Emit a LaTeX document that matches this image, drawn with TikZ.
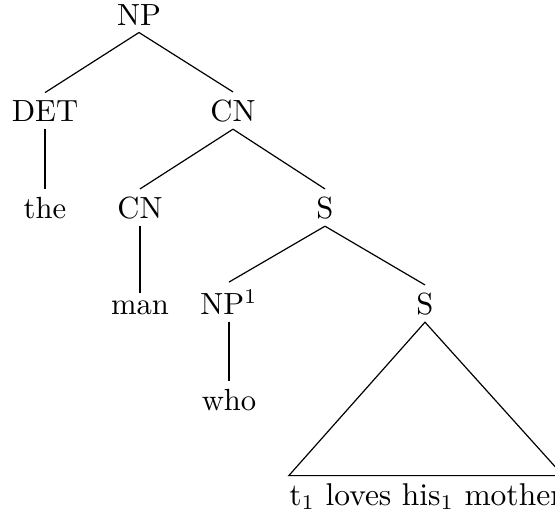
\documentclass[tikz,border=0pt]{standalone}
\begin{document}
\begin{tikzpicture}[x=0.3333pt,y=-0.3333pt,
  lab/.style={anchor=base, inner xsep=1pt, inner ysep=2.3pt, font=\fontsize{10.2}{12}\selectfont},
  br/.style={line width=0.4pt}]
\useasboundingbox (0,0) rectangle (555,515);
\node[lab] (np) at (139,25) {NP};
\node[lab] (det) at (45,121) {DET};
\node[lab] (cn) at (233,121) {CN};
\node[lab] (the) at (45,218) {the};
\node[lab] (cn2) at (140,218) {CN};
\node[lab] (s) at (325,218) {S};
\node[lab] (man) at (140,314) {man};
\node[lab] (np1) at (229,314) {NP$^1$};
\node[lab] (s2) at (425,314) {S};
\node[lab] (who) at (229,410) {who};
\node[lab, inner xsep=0pt, font=\fontsize{10.5}{12}\selectfont] (t) at (426,505) {t$_1$ loves his$_1$ mother};
\draw[br] (np.south) -- (det.north);
\draw[br] (np.south) -- (cn.north);
\draw[br] (det.south) -- (the.north);
\draw[br] (cn.south) -- (cn2.north);
\draw[br] (cn.south) -- (s.north);
\draw[br] (cn2.south) -- (man.north);
\draw[br] (s.south) -- (np1.north);
\draw[br] (s.south) -- (s2.north);
\draw[br] (np1.south) -- (who.north);
\draw[br] (s2.south) -- (t.north west) -- (t.north east) -- cycle;
\end{tikzpicture}
\end{document}
